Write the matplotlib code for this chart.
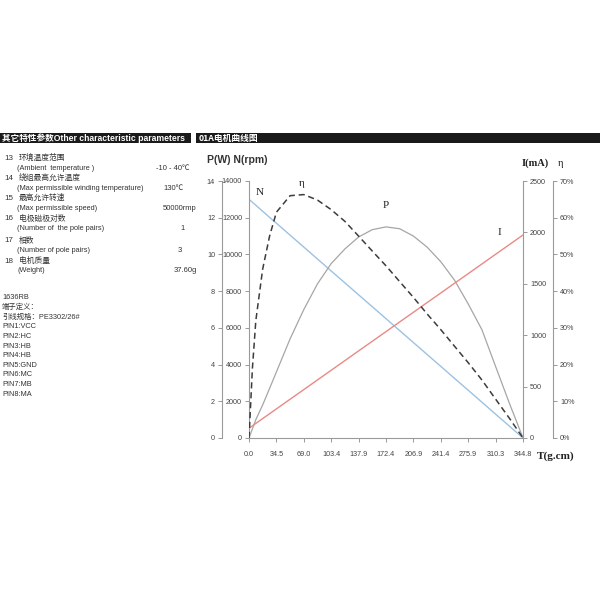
import matplotlib
matplotlib.use('Agg')
import matplotlib.pyplot as plt
from matplotlib import font_manager
from matplotlib.patches import Rectangle

# Dados
torque = [0, 4.3, 8.6, 17.2, 25.9, 34.5, 51.7, 69.0, 86.2, 103.4, 120.7, 137.9,
          155.2, 172.4, 189.6, 206.9, 224.1, 241.4, 258.6, 275.9, 293.1, 310.3, 327.6, 344.8]
speed = [13000, 12840, 12680, 12350, 12020, 11700, 11050, 10400, 9750, 9100, 8450, 7800,
         7150, 6500, 5850, 5200, 4550, 3900, 3250, 2600, 1950, 1300, 650, 0]
current = [95, 118, 142, 189, 236, 283, 377, 471, 565, 659, 753, 847,
           941, 1035, 1129, 1223, 1317, 1411, 1505, 1599, 1693, 1787, 1881, 1975]
power = [0, 0.5, 1.0, 1.8, 2.7, 3.6, 5.4, 7.0, 8.4, 9.5, 10.3, 10.95,
         11.35, 11.5, 11.4, 11.0, 10.4, 9.6, 8.6, 7.3, 5.9, 3.9, 1.9, 0]
eff = [0, 19, 32, 46, 55, 61.5, 66.0, 66.3, 64.8, 62.2, 59.0, 55.0,
       50.9, 46.9, 42.6, 38.3, 33.8, 29.5, 25.0, 20.5, 15.8, 10.6, 5.4, 0]

x_ticks = [0.0, 34.5, 69.0, 103.4, 137.9, 172.4, 206.9, 241.4, 275.9, 310.3, 344.8]

params = [
    ('13', '环境温度范围', '(Ambient  temperature )', '-10 - 40℃'),
    ('14', '绕组最高允许温度', '(Max permissible winding temperature)', '130℃'),
    ('15', '最高允许转速', '(Max permissible speed)', '50000rmp'),
    ('16', '电极磁极对数', '(Number of  the pole pairs)', '1'),
    ('17', '相数', '(Number of pole pairs)', '3'),
    ('18', '电机质量', '(Weight)', '37.60g'),
]
value_x = [173, 174, 180, 183, 180, 185]
pins = ['1636RB', '端子定义：', '引线规格：PE3302/26#', 'PIN1:VCC', 'PIN2:HC', 'PIN3:HB',
        'PIN4:HB', 'PIN5:GND', 'PIN6:MC', 'PIN7:MB', 'PIN8:MA']

names = {f.name for f in font_manager.fontManager.ttflist}
narrow = 'Liberation Sans Narrow' if 'Liberation Sans Narrow' in names else 'Liberation Sans'
cjk = [narrow, 'Noto Sans CJK SC', 'DejaVu Sans']
plt.rcParams['font.family'] = cjk

W, H = 600, 600
fig = plt.figure(figsize=(6, 6), dpi=100)
PT = 72 / 100  # pontos por pixel


def fx(px):
    return px / W


def fy(py):
    return 1 - py / H


# Barras pretas dos títulos
fig.add_artist(Rectangle((0, fy(143)), fx(191), 10 / H, transform=fig.transFigure,
                         color='#1a1a1a', lw=0))
fig.add_artist(Rectangle((fx(196), fy(143)), fx(404), 10 / H, transform=fig.transFigure,
                         color='#1a1a1a', lw=0))
fig.text(fx(2), fy(138), '其它特性参数Other characteristic parameters', color='white',
         fontsize=6.2, fontweight='bold', va='center', ha='left', family=cjk)
fig.text(fx(199), fy(138), '01A电机曲线图', color='white', fontsize=6.3,
         fontweight='bold', va='center', ha='left', family=['Noto Sans CJK SC', 'DejaVu Sans'])

# Parâmetros à esquerda
tc = '#333333'
row_y = [158, 178, 198, 219, 241, 261]
for (num, cn, en, val), y, vx in zip(params, row_y, value_x):
    fig.text(fx(4), fy(y), num, fontsize=5.8, color=tc, va='center')
    fig.text(fx(19), fy(y), cn, fontsize=5.6, color=tc, va='center')
    fig.text(fx(17), fy(y + 10), en, fontsize=5.3, color=tc, va='center')
    fig.text(fx(vx), fy(y + 10), val, fontsize=5.5, color=tc, va='center', ha='center')

for k, t in enumerate(pins):
    fig.text(fx(2), fy(298 + k * 9.6), t, fontsize=5.3, color=tc, va='center')

# Gráfico de curvas
ax = fig.add_axes([fx(249), fy(438), 274 / W, 257 / H])
ax_p = ax.twinx()
ax_i = ax.twinx()
ax_e = ax.twinx()

spine_c = '#9a9a9a'
for a in (ax, ax_p, ax_i, ax_e):
    for s in a.spines.values():
        s.set_visible(False)
    a.tick_params(labelsize=5.2, colors=spine_c, labelcolor='#444444', length=3, width=0.7,
                  pad=2)

ax.set_xlim(0, 344.8)
ax.set_ylim(0, 14000)
ax.spines['left'].set_visible(True)
ax.spines['bottom'].set_visible(True)
ax.spines['left'].set_color(spine_c)
ax.spines['bottom'].set_color(spine_c)
ax.set_xticks(x_ticks)
ax.set_xticklabels(['%.1f' % v for v in x_ticks])
ax.set_yticks(range(0, 14001, 2000))
ax.tick_params(axis='x', pad=6)

ax_p.set_ylim(0, 14)
ax_p.yaxis.tick_left()
ax_p.spines['left'].set_visible(True)
ax_p.spines['left'].set_position(('outward', 27 * PT))
ax_p.spines['left'].set_color(spine_c)
ax_p.set_yticks(range(0, 15, 2))

ax_i.set_ylim(0, 2500)
ax_i.spines['right'].set_visible(True)
ax_i.spines['right'].set_color(spine_c)
ax_i.set_yticks(range(0, 2501, 500))

ax_e.set_ylim(0, 70)
ax_e.spines['right'].set_visible(True)
ax_e.spines['right'].set_position(('outward', 30 * PT))
ax_e.spines['right'].set_color(spine_c)
ax_e.set_yticks(range(0, 71, 10))
ax_e.set_yticklabels(['%d%%' % v for v in range(0, 71, 10)])

ax.plot(torque, speed, color='#9cc2e2', lw=1.0)
ax_i.plot(torque, current, color='#e88a86', lw=1.0)
ax_p.plot(torque, power, color='#a6a6a6', lw=0.9)
ax_e.plot(torque, eff, color='#3c3c3c', lw=1.1, ls=(0, (4, 2.5)))

serif = ['Liberation Serif', 'DejaVu Serif']
ax.text(13.8, 13400, 'N', fontsize=8, family=serif, color='#222222', ha='center', va='center')
ax.text(66.7, 13850, 'η', fontsize=8, family=serif, color='#222222', ha='center', va='center')
ax.text(172.4, 12640, 'P', fontsize=8, family=serif, color='#222222', ha='center', va='center')
ax.text(314.6, 11170, 'I', fontsize=8, family=serif, color='#222222', ha='center', va='center')

fig.text(fx(207), fy(160), 'P(W) N(rpm)', fontsize=7.5, color='#333333', va='center',
         fontweight='bold')
fig.text(fx(522), fy(163), 'I(mA)', fontsize=7.5, color='#222222', va='center',
         fontweight='bold', family=serif)
fig.text(fx(558), fy(163), 'η', fontsize=7.5, color='#222222', va='center', family=serif)
fig.text(fx(537), fy(456), 'T(g.cm)', fontsize=8, color='#222222', va='center',
         fontweight='bold', family=serif)

fig.savefig('out.png', dpi=100, facecolor='white')
